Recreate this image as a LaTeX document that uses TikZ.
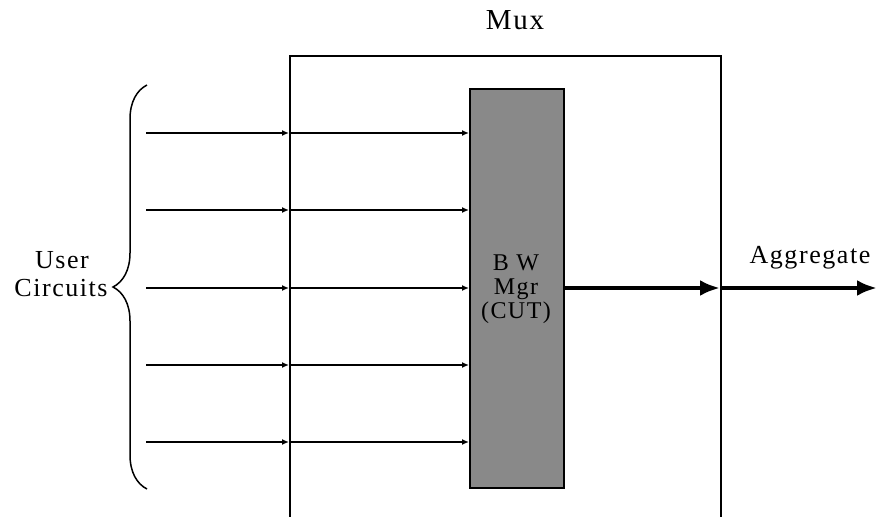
\documentclass[tikz,border=0pt]{standalone}
\usepackage{fontspec}
\setmainfont{Liberation Serif}[LetterSpace=6]
\usetikzlibrary{arrows.meta,decorations.pathreplacing}
\definecolor{mgrgray}{RGB}{137,137,137}
\tikzset{
  lbl/.style={font=\fontsize{26}{27}\selectfont, inner sep=0pt, align=center},
  feed/.style={line width=1.5pt, -{Latex[length=7pt,width=6pt]}},
  trunk/.style={line width=4pt, -{Latex[length=20pt,width=16pt]}},
}
\begin{document}
\begin{tikzpicture}[x=1pt,y=-1pt]
  \useasboundingbox (0,0) rectangle (887,517);
  \clip (0,0) rectangle (887,517);

  % multiplexer frame (runs off the lower edge)
  \node[draw, line width=2pt, minimum width=431pt, minimum height=470pt,
        inner sep=0pt, anchor=north west] (mux) at (289,55) {};
  \node[lbl, font=\fontsize{29}{30}\selectfont, anchor=base] (muxlbl) at (515,29) {Mux};

  % bandwidth manager block
  \node[draw, line width=2pt, fill=mgrgray, minimum width=94pt,
        minimum height=399pt, inner sep=0pt, anchor=north west] (bw) at (469,88) {};
  \node[lbl, font=\fontsize{24}{24}\selectfont] (bwlbl) at (516,289) {B W\\Mgr\\(CUT)};

  % user circuit inputs
  \foreach \i/\y in {1/133, 2/210, 3/288, 4/365, 5/442} {
    \coordinate (src\i) at (146,\y);
    \coordinate (tap\i) at (289,\y);
    \coordinate (dst\i) at (469,\y);
    \draw[feed] (src\i) -- (tap\i);
    \draw[feed] (tap\i) -- (dst\i);
  }

  % grouping brace and its label
  \coordinate (brlo) at (147,489);
  \coordinate (brhi) at (147,85);
  \draw[line width=1.5pt, decorate, decoration={brace, amplitude=34pt}] (brlo) -- (brhi);
  \node[lbl, anchor=base] (user) at (62,268) {User};
  \node[lbl, anchor=base] (circ) at (61,296) {Circuits};

  % aggregate output
  \coordinate (out) at (877,288);
  \coordinate (edge) at (720,288);
  \draw[trunk] (bw.east |- edge) -- (edge);
  \draw[trunk] (edge) -- (out);
  \node[lbl, anchor=base] (agg) at (810,263) {Aggregate};
\end{tikzpicture}
\end{document}
